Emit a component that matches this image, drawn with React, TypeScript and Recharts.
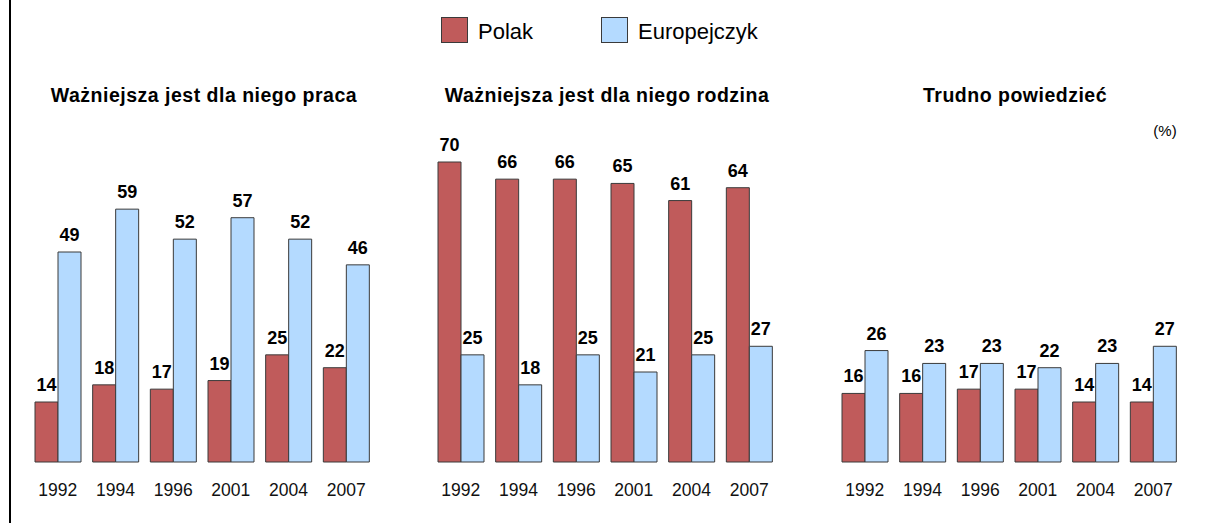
import React from 'react';
import { BarChart, Bar, XAxis, YAxis, LabelList } from 'recharts';

const years = ['1992', '1994', '1996', '2001', '2004', '2007'];

// Ważniejsza jest dla niego praca
const pracaPolak = [14, 18, 17, 19, 25, 22];
const pracaEuropejczyk = [49, 59, 52, 57, 52, 46];
// Ważniejsza jest dla niego rodzina
const rodzinaPolak = [70, 66, 66, 65, 61, 64];
const rodzinaEuropejczyk = [25, 18, 25, 21, 25, 27];
// Trudno powiedzieć
const trudnoPolak = [16, 16, 17, 17, 14, 14];
const trudnoEuropejczyk = [26, 23, 23, 22, 23, 27];

const RED = '#c05b5b';
const BLUE = '#b4daff';
const EDGE = '#3a3a3a';
const FONT = '"Liberation Sans", Arial, sans-serif';

const buildRows = (polak: number[], euro: number[]) =>
  years.map((y, i) => ({ year: y, polak: polak[i], euro: euro[i] }));

interface PanelProps {
  title: string;
  left: number;
  titleCenter: number;
  polak: number[];
  euro: number[];
}

const Panel: React.FC<PanelProps> = ({ title, left, titleCenter, polak, euro }) => {
  const rows = buildRows(polak, euro);
  return (
    <>
      <div
        style={{
          position: 'absolute',
          left: titleCenter - 250,
          width: 500,
          top: 84,
          textAlign: 'center',
          fontWeight: 'bold',
          fontSize: 19.5,
          letterSpacing: 0.5,
          color: '#000',
        }}
      >
        {title}
      </div>
      <div style={{ position: 'absolute', left, top: 0 }}>
        <BarChart
          width={346}
          height={523}
          data={rows}
          margin={{ top: 162, right: 0, bottom: 31, left: 0 }}
          barSize={23}
          barGap={0}
        >
          <XAxis
            dataKey="year"
            height={30}
            axisLine={false}
            tickLine={false}
            tickSize={6}
            tickMargin={16}
            interval={0}
            tick={{ fill: '#111', fontSize: 17.5, fontFamily: FONT }}
          />
          <YAxis hide domain={[0, 70]} />
          <Bar dataKey="polak" fill={RED} stroke={EDGE} strokeWidth={1} isAnimationActive={false}>
            <LabelList
              dataKey="polak"
              position="top"
              offset={11}
              style={{ fill: '#000', fontWeight: 'bold', fontSize: 18, fontFamily: FONT }}
            />
          </Bar>
          <Bar dataKey="euro" fill={BLUE} stroke={EDGE} strokeWidth={1} isAnimationActive={false}>
            <LabelList
              dataKey="euro"
              position="top"
              offset={11}
              style={{ fill: '#000', fontWeight: 'bold', fontSize: 18, fontFamily: FONT }}
            />
          </Bar>
        </BarChart>
      </div>
    </>
  );
};

const LegendItem: React.FC<{ color: string; label: string; left: number }> = ({ color, label, left }) => (
  <div style={{ position: 'absolute', left, top: 17, display: 'flex', alignItems: 'center' }}>
    <div
      style={{
        width: 25,
        height: 24,
        background: color,
        border: `1px solid ${EDGE}`,
        marginRight: 10,
      }}
    />
    <span style={{ fontSize: 22, color: '#000', lineHeight: '26px', position: 'relative', top: 2 }}>{label}</span>
  </div>
);

export default function App() {
  return (
    <div
      style={{
        position: 'absolute',
        left: 0,
        top: 0,
        width: 1207,
        height: 523,
        background: '#fff',
        fontFamily: FONT,
        overflow: 'hidden',
      }}
    >
      <div style={{ position: 'absolute', left: 9, top: 0, width: 2, height: 523, background: '#000' }} />
      <LegendItem color={RED} label="Polak" left={441} />
      <LegendItem color={BLUE} label="Europejczyk" left={601} />
      <Panel
        title="Ważniejsza jest dla niego praca"
        left={29}
        titleCenter={204}
        polak={pracaPolak}
        euro={pracaEuropejczyk}
      />
      <Panel
        title="Ważniejsza jest dla niego rodzina"
        left={432}
        titleCenter={607}
        polak={rodzinaPolak}
        euro={rodzinaEuropejczyk}
      />
      <Panel
        title="Trudno powiedzieć"
        left={836}
        titleCenter={1015}
        polak={trudnoPolak}
        euro={trudnoEuropejczyk}
      />
      <div style={{ position: 'absolute', left: 1140, width: 50, top: 122, textAlign: 'center', fontSize: 15, color: '#000' }}>
        (%)
      </div>
    </div>
  );
}
